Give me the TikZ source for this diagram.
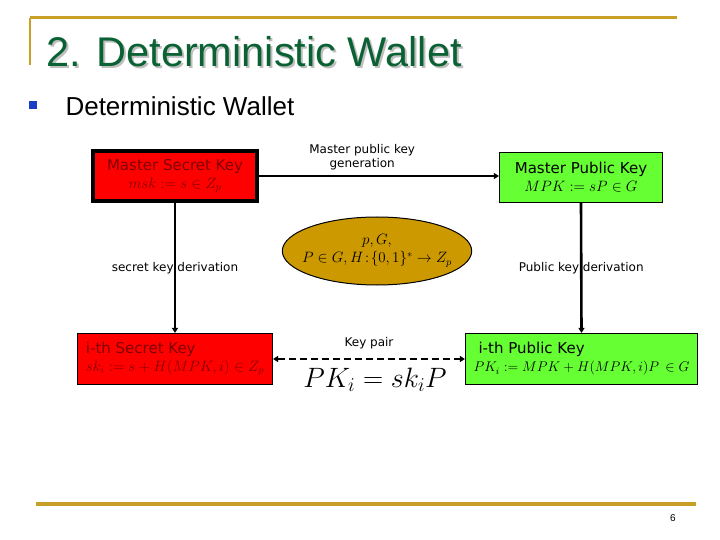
\RequirePackage{fix-cm}
\documentclass[tikz,border=0pt]{standalone}
\usepackage{fontspec}
\setmainfont{Liberation Sans}
\newfontfamily\keyfont{DejaVu Sans}
\usetikzlibrary{shapes.geometric, arrows.meta}
\definecolor{slidegold}{RGB}{200, 160, 40}
\definecolor{titlegreen}{RGB}{10, 98, 52}
\definecolor{keyred}{RGB}{255, 0, 0}
\definecolor{keygreen}{RGB}{102, 255, 51}
\definecolor{darkred}{RGB}{128, 0, 0}
\definecolor{paramgold}{RGB}{204, 153, 0}
\definecolor{bulletblue}{RGB}{28, 60, 200}

\begin{document}
\begin{tikzpicture}[x=1pt, y=-1pt,
    secret/.style={rectangle, draw=black, fill=keyred, text=darkred, line width=1.2pt, inner sep=3pt, font=\keyfont\fontsize{15}{18}\selectfont},
    public/.style={rectangle, draw=black, fill=keygreen, text=black, line width=1.2pt, inner sep=3pt, font=\keyfont\fontsize{15}{18}\selectfont},
    arrow/.style={-{Triangle[length=5pt, width=6pt]}, line width=2.6pt},
    note/.style={font=\keyfont\fontsize{12}{14}\selectfont, align=center, inner sep=1pt}
]
\useasboundingbox (0,0) rectangle (720,540);

% slide frame
\draw [slidegold, line width=3pt] (30,18) -- (677,18);
\draw [slidegold, line width=2.5pt] (30,18) -- (30,65);
\draw [slidegold, line width=3.5pt] (36,504) -- (696,504);

\node (TITLESHADOW) [anchor=base west, text=black!25, font=\fontsize{41.5}{50}\selectfont] at (45,69) {2. Deterministic Wallet};
\node (TITLE) [anchor=base west, text=titlegreen, font=\fontsize{41.5}{50}\selectfont] at (43,67) {2. Deterministic Wallet};
\node (BULLET) [fill=bulletblue, minimum size=8pt, inner sep=0pt] at (33,105) {};
\node (POINT) [anchor=base west, font=\fontsize{26}{30}\selectfont] at (62,116) {Deterministic Wallet};

\node (MSK) [secret, line width=4pt, minimum width=164pt, minimum height=50pt, align=center] at (175,176) {Master Secret Key\\$msk := s \in Z_p$};
\node (MPK) [public, minimum width=163pt, minimum height=50pt, align=center] at (581,177.5) {Master Public Key\\$MPK := sP \in G$};
\node (PARAMS) [ellipse, draw=black, fill=paramgold, line width=1pt, inner xsep=-8pt, inner ysep=0pt, minimum height=68pt, align=center, font=\fontsize{15}{18}\selectfont] at (377,251) {$p, G,$\\$P \in G, H\!:\!\{0,1\}^* \rightarrow Z_p$};
\node (ISK) [secret, minimum width=195pt, minimum height=51pt, align=left] at (175,359) {i-th Secret Key\\$sk_i := s + H(MPK, i) \in Z_p$};
\node (IPK) [public, minimum width=232pt, minimum height=51pt, align=left] at (581.5,359) {\hspace*{5pt}i-th Public Key\\{\fontsize{14}{18}\selectfont$PK_i := MPK + H(MPK, i)P \,\in G$}};

\draw [arrow] (MSK.east) -- node[note, above=4pt, pos=0.43] {Master public key\\generation} (MPK.west |- MSK.east);
\draw [arrow] (MSK.south) -- node[note] {secret key derivation} (ISK.north);
\draw [arrow] (MPK.south) -- node[note] {Public key derivation} (IPK.north);
\draw [arrow, {Triangle[length=5pt, width=6pt]}-{Triangle[length=5pt, width=6pt]}, dash pattern=on 7pt off 4pt] (ISK.east) -- node[note, above=8pt] (PAIR) {Key pair} (IPK.west);
\node (PAIRFORMULA) [font=\fontsize{28}{32}\selectfont] at (375,380) {$PK_i = sk_iP$};

\node (PAGENUM) [anchor=base, font=\fontsize{10}{12}\selectfont] at (673,521) {6};
\end{tikzpicture}
\end{document}
